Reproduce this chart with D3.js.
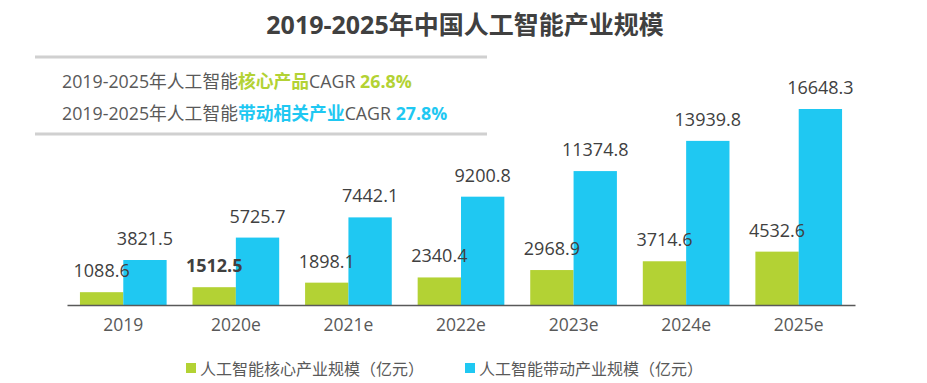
<!DOCTYPE html>
<html><head><meta charset="utf-8">
<script src="https://cdn.jsdelivr.net/npm/d3@7"></script>
<style>body{margin:0;background:#fff}svg{display:block}text{font-family:"Open Sans","Noto Sans CJK SC",sans-serif}</style>
</head><body><svg id="c" width="927" height="383"></svg>
<script>
const categories = ["2019","2020e","2021e","2022e","2023e","2024e","2025e"];
const coreValues = [1088.6,1512.5,1898.1,2340.4,2968.9,3714.6,4532.6];
const drivenValues = [3821.5,5725.7,7442.1,9200.8,11374.8,13939.8,16648.3];
const seriesNames = ["人工智能核心产业规模（亿元）","人工智能带动产业规模（亿元）"];
const colors = ["#b3d234","#1fc8f2"];
const title = "2019-2025年中国人工智能产业规模";

const svg = d3.select("#c");
const x0 = 67, x1 = 855, yBase = 305;
const x = d3.scaleBand().domain(categories).range([x0, x1]).paddingInner(0.23).paddingOuter(0.115);
const xs = d3.scaleBand().domain([0,1]).range([0, x.bandwidth()]);
const y = d3.scaleLinear().domain([0, 16648.3]).range([yBase, 109]);

svg.append("text").attr("x", 465).attr("y", 34).attr("text-anchor","middle")
  .attr("font-size", 25).attr("font-weight","bold").attr("fill","#404040").text(title);

// CAGR box
[57,134].forEach(yy=>{
  svg.append("line").attr("x1",35).attr("x2",487).attr("y1",yy).attr("y2",yy).attr("stroke","#d0d0d0").attr("stroke-width",3);
});
const cagr = [
  {pre:"2019-2025年人工智能", hl:"核心产品", post:"CAGR ", val:"26.8%", c:colors[0], y:88},
  {pre:"2019-2025年人工智能", hl:"带动相关产业", post:"CAGR ", val:"27.8%", c:colors[1], y:120}
];
cagr.forEach(d=>{
  const t = svg.append("text").attr("x",62).attr("y",d.y).attr("font-size",17.8).attr("fill","#595959");
  t.append("tspan").text(d.pre);
  t.append("tspan").attr("fill",d.c).attr("font-weight","bold").text(d.hl);
  t.append("tspan").text(d.post);
  t.append("tspan").attr("fill",d.c).attr("font-weight","bold").text(d.val);
});

const g = svg.append("g");
const groups = g.selectAll("g.cat").data(categories).join("g").attr("transform", d=>`translate(${x(d)},0)`);
const seriesVals = [coreValues, drivenValues];
seriesVals.forEach((vals, si)=>{
  groups.append("rect").attr("x", xs(si)).attr("width", xs.bandwidth())
    .attr("y", (d,i)=>y(vals[i])).attr("height",(d,i)=>yBase - y(vals[i])).attr("fill", colors[si]);
});
seriesVals.forEach((vals, si)=>{
  groups.append("text").attr("x", xs(si)+xs.bandwidth()/2).attr("y",(d,i)=>y(vals[i]) - 15)
    .attr("text-anchor","middle").attr("font-size",18).attr("fill","#404040")
    .attr("font-weight",(d,i)=> (si===0 && i===1) ? "bold" : "normal")
    .text((d,i)=>vals[i].toFixed(1));
});

const axis = svg.append("g").attr("transform",`translate(0,${yBase})`)
  .call(d3.axisBottom(x).tickSize(0).tickPadding(14));
axis.select(".domain").attr("stroke","#595959").attr("stroke-width",1.5);
axis.selectAll("text").attr("font-size",17.5).attr("fill","#595959").attr("font-family",'"Open Sans","Noto Sans CJK SC",sans-serif');

const legX = [186, 465];
seriesNames.forEach((n,i)=>{
  svg.append("rect").attr("x",legX[i]).attr("y",363).attr("width",10).attr("height",10).attr("fill",colors[i]);
  svg.append("text").attr("x",legX[i]+14).attr("y",375).attr("font-size",16).attr("fill","#595959").text(n);
});
</script></body></html>
